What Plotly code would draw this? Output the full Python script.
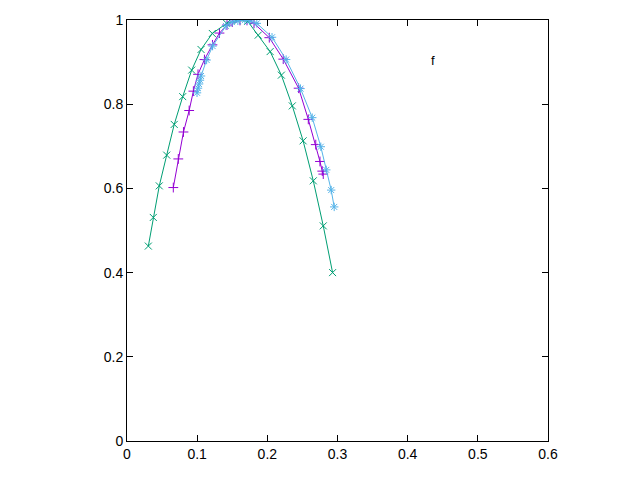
import plotly.graph_objects as go

# series
purple_x = [0.066, 0.0731, 0.0805, 0.0886, 0.0946, 0.1012, 0.1104, 0.1218, 0.1318, 0.1425,
            0.150, 0.161, 0.171, 0.181, 0.2028, 0.2227, 0.2446, 0.2584, 0.269, 0.275, 0.2783, 0.2797]
purple_y = [0.602, 0.670, 0.734, 0.785, 0.831, 0.871, 0.906, 0.941, 0.969, 0.988,
            0.995, 0.999, 0.999, 0.992, 0.958, 0.907, 0.838, 0.764, 0.704, 0.664, 0.641, 0.634]

blue_x = [0.0998, 0.1012, 0.1026, 0.104, 0.1055, 0.1135, 0.122, 0.141, 0.1496, 0.158,
          0.168, 0.175, 0.185, 0.2067, 0.2268, 0.2473, 0.264, 0.2762, 0.284, 0.291, 0.2953]
blue_y = [0.827, 0.838, 0.848, 0.857, 0.867, 0.905, 0.938, 0.986, 0.995, 0.998,
          1.0, 0.998, 0.992, 0.959, 0.906, 0.837, 0.768, 0.699, 0.644, 0.596, 0.556]

green_x = [0.0304, 0.0375, 0.046, 0.0566, 0.0673, 0.0794, 0.0922, 0.1055, 0.1216, 0.142,
           0.157, 0.172, 0.187, 0.204, 0.220, 0.2356, 0.251, 0.2655, 0.2797, 0.293]
green_y = [0.463, 0.531, 0.606, 0.679, 0.752, 0.818, 0.881, 0.930, 0.968, 0.992,
           0.999, 0.997, 0.964, 0.925, 0.869, 0.796, 0.713, 0.618, 0.511, 0.400]

x_ticks = [0, 0.1, 0.2, 0.3, 0.4, 0.5, 0.6]
y_ticks = [0, 0.2, 0.4, 0.6, 0.8, 1]
label_text = "f"

fig = go.Figure()


def add_series(xs, ys, color, symbol):
    fig.add_trace(go.Scatter(
        x=xs, y=ys, mode="lines+markers",
        line=dict(color=color, width=1),
        marker=dict(symbol=symbol, size=7, color=color, line=dict(color=color, width=1)),
        showlegend=False,
    ))


add_series(purple_x, purple_y, "#9400d3", "cross-thin")
add_series(green_x, green_y, "#009e73", "x-thin")
add_series(blue_x, blue_y, "#56b4e9", "asterisk")

fig.add_annotation(x=0.436, y=0.905, text=label_text, showarrow=False,
                   font=dict(size=13, color="black"))

axis_style = dict(
    showgrid=False, zeroline=False, showline=True, linecolor="black", linewidth=1,
    mirror="ticks", ticks="inside", ticklen=6, tickcolor="black", automargin=False,
    tickfont=dict(family="Liberation Sans, Arial", size=14, color="black"),
)

fig.update_xaxes(range=[0, 0.6], tickvals=x_ticks, ticktext=[str(v) for v in x_ticks], **axis_style)
fig.update_yaxes(range=[0, 1], tickvals=y_ticks, ticktext=[str(v) for v in y_ticks], **axis_style)

# page sits 8px in from the top-left corner, so margins are shifted to match
fig.update_layout(
    width=640, height=480,
    margin=dict(l=119, r=100, t=12, b=47),
    plot_bgcolor="white", paper_bgcolor="white",
    font=dict(family="Liberation Sans, Arial"),
)

fig.write_html("out.html")
